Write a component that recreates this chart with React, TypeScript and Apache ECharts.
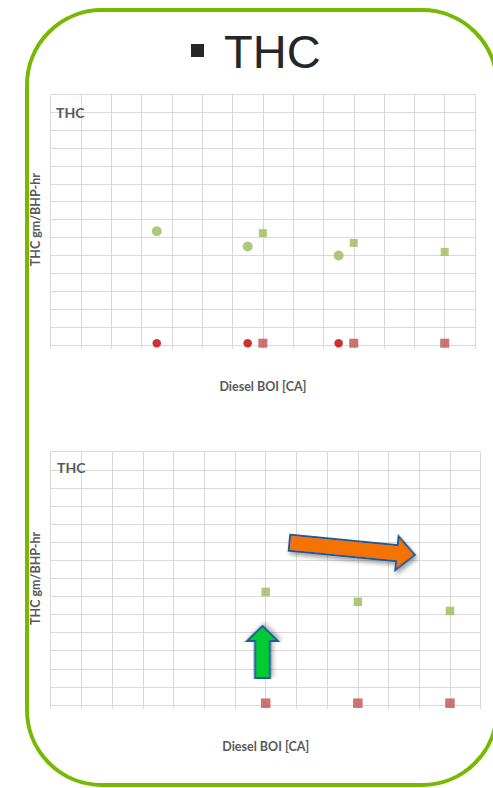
import React, { useEffect, useRef } from "react";
import * as echarts from "echarts";

// Diesel BOI positions (grid units along the x axis)
const boiCircle = [3.5, 6.5, 9.5];
const boiSquare = [7, 10, 13];

// THC values [gm/BHP-hr] (grid units)
const thcCircleGreen = [6.35, 5.5, 5.0];
const thcCircleRed = [0.1, 0.1, 0.1];
const thcSquareGreen = [6.25, 5.7, 5.2];
const thcSquareRed = [0.1, 0.1, 0.1];

const chartTitle = "THC";
const xAxisName = "Diesel BOI [CA]";
const yAxisName = "THC gm/BHP-hr";
const slideHeading = "THC";

const pair = (xs: number[], ys: number[]) => xs.map((x, i) => [x, ys[i]]);

const GREEN = "#9BBB59";
const RED_DOT = "#C00000";
const RED_SQ = "#C0504D";
const GRID_C = "#D9D9D9";
const TEXT_C = "#595959";
const FONT = "Lato";

function axisPair(gridIndex: number) {
  const x = {
    type: "value",
    gridIndex,
    min: 0,
    max: 14,
    interval: 1,
    name: xAxisName,
    nameLocation: "middle",
    nameGap: 35,
    nameTextStyle: { color: TEXT_C, fontFamily: FONT, fontWeight: "bold", fontSize: 12.5 },
    axisLabel: { show: false },
    axisLine: { show: true, lineStyle: { color: GRID_C, width: 1 } },
    axisTick: { show: true, length: 4, lineStyle: { color: GRID_C } },
    splitLine: { show: true, lineStyle: { color: GRID_C, width: 1 } },
  };
  const y = {
    type: "value",
    gridIndex,
    min: 0,
    max: 14,
    interval: 1,
    name: yAxisName,
    nameLocation: "middle",
    nameGap: 8.5,
    nameTextStyle: { color: TEXT_C, fontFamily: FONT, fontWeight: "bold", fontSize: 12.5 },
    axisLabel: { show: false },
    axisLine: { show: false },
    axisTick: { show: false },
    splitLine: { show: true, lineStyle: { color: GRID_C, width: 1 } },
  };
  return { x, y };
}

function scatter(gridIndex: number, data: number[][], symbol: string, size: number, color: string) {
  return {
    type: "scatter",
    xAxisIndex: gridIndex,
    yAxisIndex: gridIndex,
    symbol,
    symbolSize: size,
    itemStyle: { color },
    data,
  };
}

// horizontal block arrow, tail centred at the origin, pointing along +x
function blockArrow(len: number, shaftHalf: number, headHalf: number, headLen: number) {
  return [
    [0, -shaftHalf],
    [len - headLen, -shaftHalf],
    [len - headLen, -headHalf],
    [len, 0],
    [len - headLen, headHalf],
    [len - headLen, shaftHalf],
    [0, shaftHalf],
  ];
}

export default function App() {
  const ref = useRef<HTMLDivElement>(null);

  useEffect(() => {
    if (!ref.current) return;
    const chart = echarts.init(ref.current, null, { renderer: "svg" });
    const a0 = axisPair(0);
    const a1 = axisPair(1);

    const titleStyle = { color: TEXT_C, fontFamily: FONT, fontWeight: "bold", fontSize: 14 };

    chart.setOption({
      animation: false,
      backgroundColor: "#FFFFFF",
      title: [
        { text: chartTitle, left: 56, top: 105, padding: 0, textStyle: titleStyle },
        { text: chartTitle, left: 57, top: 460, padding: 0, textStyle: titleStyle },
      ],
      grid: [
        { left: 50.7, top: 94.3, width: 424.3, height: 250.7 },
        { left: 50.7, top: 451.7, width: 430, height: 253.3 },
      ],
      xAxis: [a0.x, a1.x],
      yAxis: [a0.y, a1.y],
      series: [
        scatter(0, pair(boiCircle, thcCircleGreen), "circle", 10, GREEN),
        scatter(0, pair(boiCircle, thcCircleRed), "circle", 8.5, RED_DOT),
        scatter(0, pair(boiSquare, thcSquareGreen), "rect", 8, GREEN),
        scatter(0, pair(boiSquare, thcSquareRed), "rect", 9, RED_SQ),
        scatter(1, pair(boiSquare, thcSquareGreen), "rect", 8.5, GREEN),
        scatter(1, pair(boiSquare, thcSquareRed), "rect", 9.5, RED_SQ),
      ],
      graphic: [
        {
          type: "rect",
          z: 100,
          shape: { x: 27, y: 10, width: 470, height: 775, r: 75 },
          style: { fill: "none", stroke: "#76B900", lineWidth: 4 },
          silent: true,
        },
        {
          type: "rect",
          z: 100,
          shape: { x: 191, y: 44, width: 13, height: 13 },
          style: { fill: "#262626" },
        },
        {
          type: "text",
          z: 100,
          x: 224,
          y: 51,
          style: {
            text: slideHeading,
            fill: "#262626",
            font: '47px "Liberation Sans", Arial, sans-serif',
            verticalAlign: "middle",
            align: "left",
          },
        },
        {
          type: "group",
          z: 100,
          x: 289.5,
          y: 542.7,
          rotation: -0.0975,
          children: [
            {
              type: "polygon",
              z: 100,
              shape: { points: blockArrow(126, 8, 17, 18) },
              style: {
                fill: "#F57300",
                stroke: "#1F5C8F",
                lineWidth: 2,
                shadowBlur: 4,
                shadowOffsetX: 2,
                shadowOffsetY: 3,
                shadowColor: "rgba(0,0,0,0.35)",
              },
            },
          ],
        },
        {
          type: "group",
          z: 100,
          x: 262.5,
          y: 678,
          rotation: Math.PI / 2,
          children: [
            {
              type: "polygon",
              z: 100,
              shape: { points: blockArrow(52, 7.5, 15.5, 15) },
              style: {
                fill: "#00CC33",
                stroke: "#1F5C99",
                lineWidth: 2,
                shadowBlur: 4,
                shadowOffsetX: 2,
                shadowOffsetY: 2,
                shadowColor: "rgba(0,0,0,0.3)",
              },
            },
          ],
        },
      ],
    });

    return () => chart.dispose();
  }, []);

  return (
    <div
      ref={ref}
      style={{ position: "absolute", left: 0, top: 0, width: 493, height: 788 }}
    />
  );
}
